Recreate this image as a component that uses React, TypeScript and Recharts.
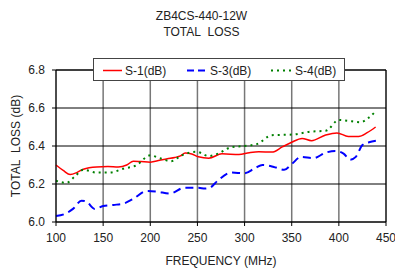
import React from "react";
import { LineChart, Line, XAxis, YAxis, CartesianGrid, Legend, ReferenceLine, Label } from "recharts";

const xTicks = [100, 150, 200, 250, 300, 350, 400, 450];
const yTicks = [6.0, 6.2, 6.4, 6.6, 6.8];

const s1Freq = [100, 108, 115, 122, 129, 143, 155, 166, 175, 182, 190, 200, 210, 218, 226, 232, 237, 244, 251, 262, 276, 294, 305, 315, 329, 340, 350, 361, 371, 386, 398, 410, 421, 430, 439];
const s1Loss = [6.30, 6.27, 6.25, 6.26, 6.278, 6.29, 6.292, 6.29, 6.30, 6.32, 6.318, 6.315, 6.325, 6.333, 6.34, 6.348, 6.363, 6.358, 6.343, 6.336, 6.359, 6.355, 6.365, 6.37, 6.368, 6.395, 6.42, 6.44, 6.428, 6.458, 6.469, 6.45, 6.45, 6.47, 6.50];

const s3Freq = [100, 111, 118, 127, 132, 141, 150, 161, 171, 182, 196, 207, 221, 236, 251, 258, 263, 272, 286, 300, 311, 319, 331, 342, 350, 360, 373, 386, 396, 405, 412, 418, 425, 432, 440];
const s3Loss = [6.031, 6.046, 6.069, 6.112, 6.108, 6.069, 6.084, 6.09, 6.096, 6.122, 6.163, 6.16, 6.15, 6.18, 6.18, 6.176, 6.18, 6.22, 6.26, 6.257, 6.283, 6.30, 6.29, 6.275, 6.305, 6.343, 6.336, 6.365, 6.374, 6.36, 6.328, 6.343, 6.405, 6.42, 6.428];

const s4Freq = [100, 111, 120, 129, 143, 157, 171, 185, 200, 210, 222, 233, 249, 262, 272, 286, 300, 313, 329, 350, 371, 386, 400, 414, 423, 432, 440];
const s4Loss = [6.217, 6.206, 6.24, 6.275, 6.26, 6.26, 6.28, 6.298, 6.351, 6.336, 6.32, 6.35, 6.37, 6.347, 6.36, 6.394, 6.40, 6.41, 6.457, 6.46, 6.476, 6.48, 6.537, 6.53, 6.525, 6.55, 6.588];

const toPts = (f: number[], v: number[]) => f.map((x, i) => ({ freq: x, loss: v[i] }));

const FONT = "'Liberation Sans', Arial, sans-serif";
const TXT = "#222";

const LegendBox = () => (
  <div
    style={{
      width: 252,
      height: 23,
      border: "1px solid #444",
      background: "#fff",
      boxSizing: "border-box",
      position: "relative",
    }}
  >
    <svg width={252} height={23} style={{ position: "absolute", left: 0, top: 0 }}>
      <line x1={9} x2={28} y1={11.5} y2={11.5} stroke="#ff0000" strokeWidth={1.5} />
      <text x={31} y={16} fontFamily={FONT} fontSize={12} fill={TXT}>S-1(dB)</text>
      <line x1={93} x2={114} y1={11.5} y2={11.5} stroke="#0000ff" strokeWidth={2} strokeDasharray="7 4" />
      <text x={116} y={16} fontFamily={FONT} fontSize={12} fill={TXT}>S-3(dB)</text>
      <line x1={177} x2={199} y1={11.5} y2={11.5} stroke="#008000" strokeWidth={2} strokeDasharray="2 4" />
      <text x={201} y={16} fontFamily={FONT} fontSize={12} fill={TXT}>S-4(dB)</text>
    </svg>
  </div>
);

export default function App() {
  return (
    <div style={{ position: "absolute", left: 0, top: 0, width: 395, height: 268, background: "#fff" }}>
      <div
        style={{
          position: "absolute",
          left: 0,
          top: 8,
          width: 403,
          textAlign: "center",
          fontFamily: FONT,
          fontSize: 12,
          lineHeight: "16px",
          color: TXT,
        }}
      >
        ZB4CS-440-12W
        <br />
        TOTAL&nbsp;&nbsp;LOSS
      </div>
      <LineChart
        width={395}
        height={268}
        margin={{ top: 47, right: 9, bottom: 0, left: 0 }}
        style={{ position: "absolute", left: 0, top: 0 }}
      >
        <CartesianGrid horizontal={false} vertical={true} stroke="#777" strokeWidth={1.5} />
        <CartesianGrid horizontal={true} vertical={false} stroke="#000" strokeWidth={1} />
        <XAxis
          dataKey="freq"
          type="number"
          domain={[100, 450]}
          ticks={xTicks}
          allowDuplicatedCategory={false}
          height={46}
          tickSize={4}
          stroke="#000"
          tick={{ fill: TXT, fontSize: 12, fontFamily: FONT }}
          tickMargin={7}
        >
          <Label value="FREQUENCY (MHz)" position="insideBottom" offset={3} style={{ fill: TXT, fontSize: 12, fontFamily: FONT }} />
        </XAxis>
        <YAxis
          dataKey="loss"
          type="number"
          domain={[6.0, 6.8]}
          ticks={yTicks}
          width={56}
          tickSize={4}
          stroke="#000"
          tickFormatter={(v: number) => v.toFixed(1)}
          tick={{ fill: TXT, fontSize: 12, fontFamily: FONT }}
          tickMargin={7}
        >
          <Label
            value={"TOTAL\u00A0\u00A0LOSS (dB)"}
            angle={-90}
            position="insideLeft"
            offset={16}
            style={{ fill: TXT, fontSize: 12, fontFamily: FONT, textAnchor: "middle" }}
          />
        </YAxis>
        <ReferenceLine x={450} stroke="#000" strokeWidth={1} />
        <ReferenceLine y={6.8} stroke="#000" strokeWidth={1} />
        <Legend
          verticalAlign="top"
          content={() => <LegendBox />}
          wrapperStyle={{ position: "absolute", left: 93, top: 58, width: 252, height: 23 }}
        />
        <Line data={toPts(s1Freq, s1Loss)} dataKey="loss" type="monotone" stroke="#ff0000" strokeWidth={1.5} dot={false} isAnimationActive={false} name="S-1(dB)" />
        <Line data={toPts(s3Freq, s3Loss)} dataKey="loss" type="monotone" stroke="#0000ff" strokeWidth={2} strokeDasharray="8 5" dot={false} isAnimationActive={false} name="S-3(dB)" />
        <Line data={toPts(s4Freq, s4Loss)} dataKey="loss" type="monotone" stroke="#008000" strokeWidth={2} strokeDasharray="2 4" dot={false} isAnimationActive={false} name="S-4(dB)" />
      </LineChart>
    </div>
  );
}
